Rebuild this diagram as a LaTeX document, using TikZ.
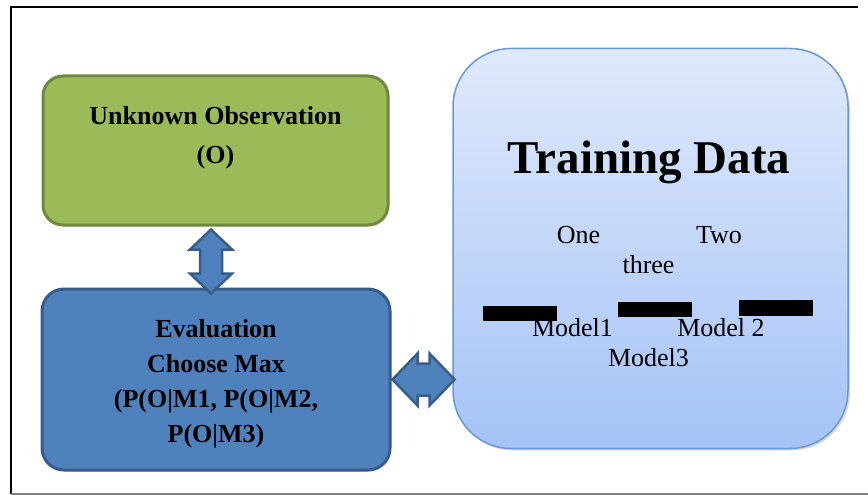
\documentclass[tikz,border=0pt]{standalone}
\usepackage{fontspec}
\setmainfont{Liberation Serif}
\usetikzlibrary{calc,shadows}
\definecolor{grfill}{HTML}{9BBB59}
\definecolor{grdraw}{HTML}{71893F}
\definecolor{blfill}{HTML}{4F81BD}
\definecolor{bldraw}{HTML}{385D8A}
\definecolor{trtop}{HTML}{DFE9FC}
\definecolor{trbot}{HTML}{A5C3F6}
\definecolor{trdraw}{HTML}{6A98D5}
\tikzset{
  box/.style={rectangle, inner sep=0pt},
  greenbox/.style={box, fill=grfill, draw=grdraw, line width=3pt, rounded corners=20pt,
    drop shadow={shadow xshift=1.5pt, shadow yshift=-1.5pt, opacity=0.25}},
  bluebox/.style={box, fill=blfill, draw=bldraw, line width=3pt, rounded corners=22pt,
    drop shadow={shadow xshift=1.5pt, shadow yshift=-1.5pt, opacity=0.25}},
  trainbox/.style={box, top color=trtop, bottom color=trbot, draw=trdraw, line width=1.5pt,
    rounded corners=58pt, drop shadow={shadow xshift=2pt, shadow yshift=-2pt, opacity=0.3}},
  boldtxt/.style={font=\fontsize{26}{39}\selectfont\bfseries, align=center, inner sep=0pt},
  plaintxt/.style={font=\fontsize{26}{30}\selectfont, inner sep=0pt, anchor=base},
  bigarrow/.style={fill=blfill, draw=bldraw, line width=2.5pt, line join=miter},
  bar/.style={fill=black},
}
\begin{document}
\begin{tikzpicture}[x=1pt,y=-1pt]
\useasboundingbox (0,0) rectangle (868,495);
\fill[white] (0,0) rectangle (868,495);
% frame
\draw[line width=1.5pt] (11,494) -- (11,7) -- (858,7);
\draw[line width=1.5pt, black!50] (11,494) -- (868,494);

% boxes
\node[greenbox, minimum width=345pt, minimum height=149pt] (obs) at (215.5,150.5) {};
\node[bluebox, minimum width=348pt, minimum height=181pt] (eval) at (216,379.5) {};
\node[trainbox, minimum width=395pt, minimum height=400pt] (train) at (650.5,248.5) {};

% texts in left boxes
\node[boldtxt] (obstext) at (215.5,138) {Unknown Observation\\(O)};
\node[boldtxt, font=\fontsize{26}{35}\selectfont\bfseries] (evaltext) at (216,384)
  {Evaluation\\Choose Max\\(P(O|M1, P(O|M2,\\P(O|M3)};

% training data contents
\node[plaintxt, font=\fontsize{47}{50}\selectfont\bfseries] (title) at (649,173) {Training Data};
\node[plaintxt] (one) at (578.5,243) {One};
\node[plaintxt] (two) at (719,243) {Two};
\node[plaintxt] (three) at (648.5,273) {three};
\fill[bar] (483,306) rectangle (557,321);
\fill[bar] (618,302) rectangle (692,317);
\fill[bar] (739,300) rectangle (813,316);
\node[plaintxt] (m1) at (572.5,336) {Model1};
\node[plaintxt] (m2) at (721,336) {Model 2};
\node[plaintxt] (m3) at (648.5,366) {Model3};

% vertical double arrow between obs and eval
\draw[bigarrow] ($(obs.south)+(-4.5,3)$) coordinate (vt) -- ++(21,20) -- ++(-10,0) -- ++(0,24)
  -- ++(10,0) -- ++(-21,20) coordinate (vb) -- ++(-21,-20) -- ++(10,0) -- ++(0,-24) -- ++(-10,0) -- cycle;

% horizontal double arrow between eval and train
\draw[bigarrow] ($(eval.east)+(1,0)$) coordinate (hl) -- ++(25,-26) -- ++(0,10) -- ++(12,0) -- ++(0,-10)
  -- ++(25,26) coordinate (hr) -- ++(-25,26) -- ++(0,-10) -- ++(-12,0) -- ++(0,10) -- cycle;
\end{tikzpicture}
\end{document}
